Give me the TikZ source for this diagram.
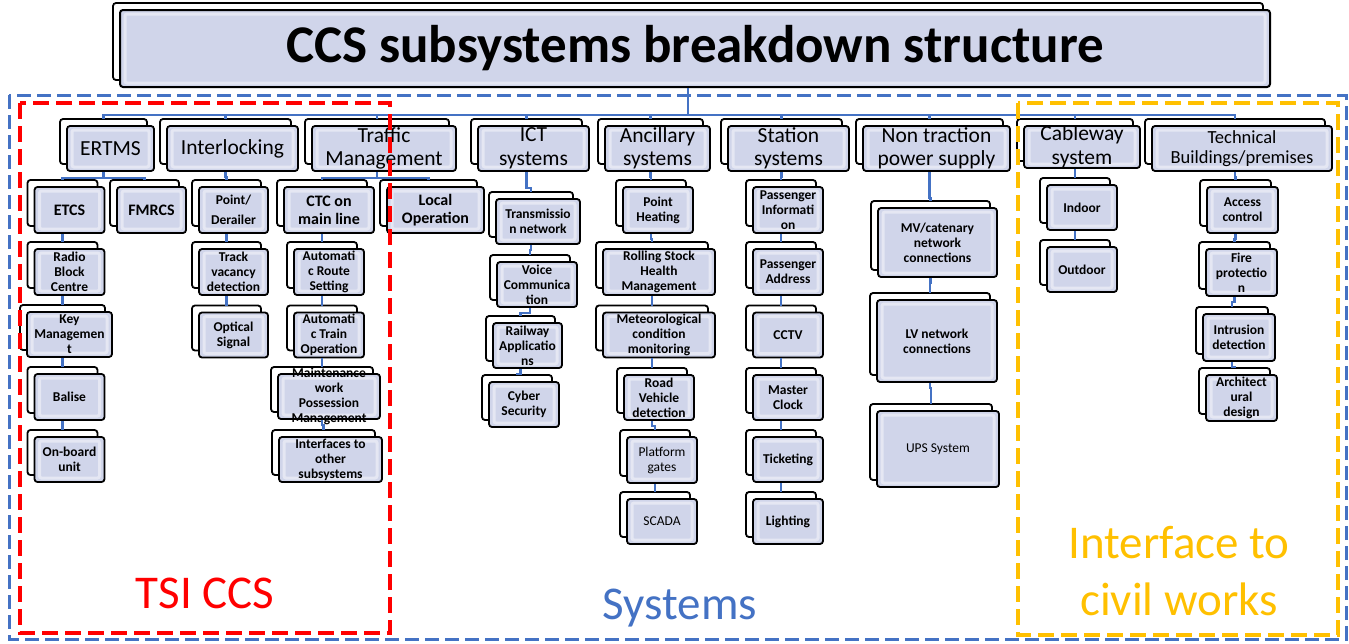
\documentclass[tikz,border=0pt]{standalone}
\usepackage{fontspec}
\setmainfont{Carlito}
\usetikzlibrary{shadows}

\definecolor{boxfill}{RGB}{208,213,234}
\definecolor{linkblue}{RGB}{68,114,196}
\definecolor{tsired}{RGB}{255,0,0}
\definecolor{civilyellow}{RGB}{255,192,0}

\begin{document}
\begin{tikzpicture}[
    x=1pt, y=-1pt,
    box/.style={draw=black, line width=1.8pt, rounded corners=3pt, fill=boxfill, align=center, inner sep=0pt,
        minimum width=70pt, minimum height=46pt,
        copy shadow={shadow xshift=-7pt, shadow yshift=7pt, fill=white, draw=black, line width=1.8pt},
        path picture={\draw[white, line width=3pt, opacity=0.45, rounded corners=2pt]
            ([shift={(5pt,-4pt)}]path picture bounding box.north west) rectangle
            ([shift={(-5pt,4pt)}]path picture bounding box.south east);}},
    cat/.style={box, font=\fontsize{21.5}{23.5}\selectfont, minimum height=45pt},
    sub/.style={box, font=\bfseries\fontsize{13.5}{15}\selectfont},
    bigsub/.style={box, font=\bfseries\fontsize{16}{18}\selectfont},
    plainsub/.style={box, font=\fontsize{13.5}{15}\selectfont},
    wire/.style={draw=linkblue, line width=2.5pt},
    area/.style={line width=4pt, dash pattern=on 16pt off 7pt},
    caption/.style={font=\fontsize{47}{57}\selectfont, align=center}
]
\useasboundingbox (0,0) rectangle (1349,643);

% Nodes
\node[box, minimum width=1150pt, minimum height=77pt, line width=2pt, font=\bfseries\fontsize{53}{56}\selectfont] (title) at (695,48.5) {CCS subsystems breakdown structure};

\node[cat, minimum width=87pt] (ertms) at (110.5,148.5) {ERTMS};
\node[cat, minimum width=131pt] (interlocking) at (232.5,148.5) {Interlocking};
\node[cat, minimum width=144pt] (traffic) at (384,148.5) {Traffic\\Management};
\node[cat, minimum width=111pt] (ict) at (533.5,148.5) {ICT\\systems};
\node[cat, minimum width=105pt] (ancillary) at (657.5,148.5) {Ancillary\\systems};
\node[cat, minimum width=121pt] (station) at (788.5,148.5) {Station\\systems};
\node[cat, minimum width=147pt] (nontraction) at (936.5,148.5) {Non traction\\power supply};
\node[cat, minimum width=116pt, minimum height=42pt] (cableway) at (1082,147) {Cableway\\system};
\node[cat, minimum width=180pt, font=\fontsize{18.5}{20.5}\selectfont] (technical) at (1242,148.5) {Technical\\Buildings/premises};

\node[bigsub] (etcs) at (69.5,210) {ETCS};
\node[bigsub, minimum width=69pt] (fmrcs) at (151.5,210) {FMRCS};
\node[sub] (rbc) at (69.5,272) {Radio\\Block\\Centre};
\node[sub, minimum width=85pt, minimum height=45pt] (keymgmt) at (69.5,334.5) {Key\\Managemen\\t};
\node[sub] (balise) at (69.5,397) {Balise};
\node[sub, minimum height=45pt] (onboard) at (69.5,459.5) {On-board\\unit};

\node[sub, minimum width=69pt] (point) at (233.5,210) {Point/\\[5pt]Derailer};
\node[sub, minimum width=69pt] (track) at (233.5,272) {Track\\vacancy\\detection};
\node[sub, minimum width=69pt, minimum height=45pt] (optical) at (233.5,335) {Optical\\Signal};

\node[bigsub, minimum width=90pt] (ctc) at (329,210) {CTC on\\main line};
\node[bigsub, minimum width=97pt] (local) at (435.5,210) {Local\\Operation};
\node[sub] (ars) at (329,272) {Automati\\c Route\\Setting};
\node[sub, minimum height=45pt] (ato) at (329,335) {Automati\\c Train\\Operation};
\node[sub, minimum width=102pt, minimum height=45pt] (possession) at (329,396.5)
    {\parbox[c][40pt][c]{100pt}{\centering Maintenance\\work\\Possession\\Management}};
\node[sub, minimum width=103pt, minimum height=45pt] (interfaces) at (330.5,459.5) {Interfaces to\\other\\subsystems};

\node[sub, minimum width=84pt, minimum height=45pt] (transmission) at (538,221.5) {Transmissio\\n network};
\node[sub, minimum width=80pt, minimum height=45pt] (voice) at (537,284.5) {Voice\\Communica\\tion};
\node[sub, minimum width=69pt, minimum height=45pt] (railway) at (527.5,345.5) {Railway\\Applicatio\\ns};
\node[sub, minimum height=45pt] (cyber) at (524,404.5) {Cyber\\Security};

\node[sub] (heating) at (658,210) {Point\\Heating};
\node[sub, minimum width=112pt] (rolling) at (659,272) {Rolling Stock\\Health\\Management};
\node[sub, minimum width=112pt, minimum height=45pt] (meteo) at (659,335) {Meteorological\\condition\\monitoring};
\node[sub, minimum height=45pt] (road) at (659,397.5) {Road\\Vehicle\\detection};
\node[plainsub] (platform) at (662,460) {Platform\\gates};
\node[plainsub, minimum height=45pt] (scada) at (662,521.5) {SCADA};

\node[sub] (pis) at (788,210) {Passenger\\Informati\\on};
\node[sub] (address) at (788,272) {Passenger\\Address};
\node[sub, minimum height=45pt] (cctv) at (788,335) {CCTV};
\node[sub, minimum height=45pt] (clock) at (788,397.5) {Master\\Clock};
\node[sub, minimum height=45pt] (ticketing) at (788,459.5) {Ticketing};
\node[sub, minimum height=45pt] (lighting) at (788,521.5) {Lighting};

\node[sub, minimum width=119pt, minimum height=69pt] (mv) at (937.5,242.5) {MV/catenary\\network\\connections};
\node[sub, minimum width=120pt, minimum height=82pt] (lv) at (937,341) {LV network\\connections};
\node[plainsub, minimum width=122pt, minimum height=76pt] (ups) at (938,449) {UPS System};

\node[sub, minimum height=45pt] (indoor) at (1082,207.5) {Indoor};
\node[sub, minimum height=45pt] (outdoor) at (1082,269.5) {Outdoor};

\node[sub, minimum width=71pt] (access) at (1242.5,210) {Access\\control};
\node[sub, minimum width=71pt, minimum height=47pt] (fire) at (1241.5,272.5) {Fire\\protectio\\n};
\node[sub, minimum width=72pt, minimum height=47pt] (intrusion) at (1239,337.5) {Intrusion\\detection};
\node[sub, minimum width=71pt] (architecture) at (1241.5,398) {Architect\\ural\\design};

\node[caption, text=tsired, anchor=base] (tsi) at (205,608) {TSI CCS};
\node[caption, text=linkblue, anchor=base] (systems) at (680,619) {Systems};
\node[caption, text=civilyellow] (civil) at (1179,571) {Interface to\\civil works};

% Paths (front box of the parent to the back box of the child)
\foreach \b in {ertms, interlocking, traffic, ict, ancillary, station, nontraction, cableway, technical}
    \draw[wire] ([xshift=-7pt]title.south) -- ++(0,27) -| ([shift={(-7pt,6pt)}]\b.north);
\draw[wire] ([xshift=-7pt]ertms.south) -- ++(0,6) -| ([shift={(-7pt,6pt)}]etcs.north);
\draw[wire] ([xshift=-7pt]ertms.south) -- ++(0,6) -| ([shift={(-7pt,6pt)}]fmrcs.north);
\draw[wire] ([xshift=-7pt]traffic.south) -- ++(0,6) -| ([shift={(-7pt,6pt)}]ctc.north);
\draw[wire] ([xshift=-7pt]traffic.south) -- ++(0,6) -| ([shift={(-7pt,6pt)}]local.north);
\draw[wire] ([xshift=-7pt]interlocking.south) -- ++(0,5) -| ([shift={(-7pt,6pt)}]point.north);
\draw[wire] ([xshift=-7pt]ict.south) -- ++(0,16) -| ([shift={(-7pt,6pt)}]transmission.north);
\draw[wire] ([xshift=-7pt]ancillary.south) -- ++(0,5) -| ([shift={(-7pt,6pt)}]heating.north);
\draw[wire] ([xshift=-7pt]station.south) -- ++(0,5) -| ([shift={(-7pt,6pt)}]pis.north);
\draw[wire] ([xshift=-7pt]nontraction.south) -- ++(0,26) -| ([shift={(-7pt,6pt)}]mv.north);
\draw[wire] ([xshift=-7pt]cableway.south) -- ++(0,5) -| ([shift={(-7pt,6pt)}]indoor.north);
\draw[wire] ([xshift=-7pt]technical.south) -- ++(0,5) -| ([shift={(-7pt,6pt)}]access.north);
\foreach \a/\b in {etcs/rbc, rbc/keymgmt, keymgmt/balise, balise/onboard, point/track, track/optical,
        ctc/ars, ars/ato, ato/possession, possession/interfaces, transmission/voice, voice/railway, railway/cyber,
        heating/rolling, rolling/meteo, meteo/road, road/platform, platform/scada,
        pis/address, address/cctv, cctv/clock, clock/ticketing, ticketing/lighting,
        mv/lv, lv/ups, indoor/outdoor, access/fire, fire/intrusion, intrusion/architecture}
    \draw[wire] ([xshift=-7pt]\a.south) -- ++(0,5) -| ([shift={(-7pt,6pt)}]\b.north);

% Areas
\draw[draw=linkblue, line width=3pt, dash pattern=on 14pt off 6pt] (9,95) rectangle (1346,639);
\draw[area, draw=tsired] (20,103) rectangle (390,633);
\draw[area, draw=civilyellow] (1018,103) rectangle (1338,635);

\end{tikzpicture}
\end{document}
